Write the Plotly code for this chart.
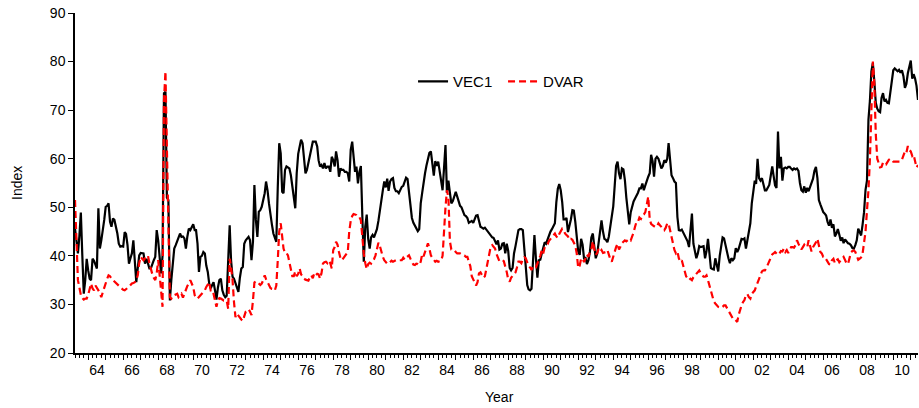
import pandas as pd
import plotly.graph_objects as go

# Monthly observations, first one = 1963-04
start_month = "1963-04-01"

vec1 = [
    45.6, 43, 40.5, 44, 48.9, 40, 32.2, 35, 39.4, 37, 35.3, 35.0,
    39.4, 39.0, 38, 37.4, 49.8, 41.5, 43.2, 45, 47.4, 50.1, 50.3, 50.8,
    47, 46, 47.7, 47.4, 46, 44.6, 42.5, 41.9, 42, 41.9, 44.9, 44.5,
    42.2, 38.4, 39.5, 40.5, 43.2, 38.4, 34.6, 37.5, 40.1, 40.6, 40.6, 40.5,
    38.4, 39.4, 38.5, 37.4, 37.4, 38.5, 39.1, 39.8, 45.3, 43.2, 39.1, 36.4,
    40, 73.5, 73.8, 52, 51.5, 30.8, 35, 39, 41.5, 42.2, 43, 43.9,
    44.6, 43.9, 44, 43.6, 41.5, 44, 45.6, 45.3, 46, 46.5, 45.3, 45.3,
    42.5, 36.7, 39.8, 40, 40.8, 40.5, 38, 36.7, 34.3, 33.3, 34, 34.6,
    32.9, 31,
    33.5, 35, 35.3, 32.9, 32, 31.5, 31.8, 37.7, 46.3, 39.1, 35.7, 35.3,
    34.3, 33.6, 32.6, 35.5, 37.4, 37.7, 42.5, 43.2, 43.5, 43.9, 43.2, 39.1,
    42.9, 54.6, 47.4, 43.9, 49.1, 49.4, 50.1, 51.5, 52.9, 55.3, 53.5, 50.8,
    48.0, 46.5, 44.6, 43.5, 42.9, 54.2, 63.2, 61.1, 53.2, 52.9, 57.7, 58.4,
    58.2, 58, 56.6, 54.2, 51.8, 49.8, 57, 61, 62.5, 63.9, 63.2, 59.7,
    57, 57.7, 59, 60.4, 62, 63.5, 63.5, 63.5, 62.5, 59.7, 58.4, 58.7,
    58, 59.1, 58, 58.4, 58.4, 57.3, 60.4, 59.7, 58.4, 61.5, 59.7, 56.3,
    58, 57.7, 57.7, 57.3, 57.3, 57, 55.3, 61.8, 63.5, 59.7, 57.3, 58.4,
    54.9,
    57.3, 58.5, 48, 38.8, 46, 48.5, 43.5, 41.5, 43.8, 44.3, 43.8, 44.8,
    45.5, 47.2, 49.5, 52, 53.5, 55.3, 54.1, 55.9, 53.4, 55.3, 55.8, 56,
    54, 53.3, 53.3, 52.9, 53.6, 54.2, 54.4, 55.2, 56.1, 55.8, 53, 50.4,
    47.8, 46.8, 46.2, 45.5, 45.1, 45.5, 50.8, 53, 55.2, 57, 58.6, 60.2,
    61.2, 61.5, 58.6, 56.5, 59.5, 58.5, 59.4, 57.5, 55.5, 53.5, 58, 62.8,
    53, 55.5, 53, 50.8, 51.3, 52.2, 53.2, 52.2, 51.2, 50.3, 50, 49,
    48.4, 48.2, 47.8, 46.8, 47, 47.2, 46.8, 47.6, 48.3, 48.4, 47.3, 46,
    45.8, 45.6, 45.8, 45.4, 45, 44.5, 44.2, 43.8, 43.7, 43, 42.4, 43.2,
    41.3,
    41.5, 42.5, 42.6, 40.5, 42.5, 41, 37.5, 37, 37.5, 40.5, 42, 43.5,
    45.3, 45.5, 45.5, 45.3, 41, 36.3, 34, 33.1, 32.9, 33.2, 40, 44.3,
    39.5, 35.5, 39.1, 39.2, 40.5, 41.8, 42.8, 42.5, 43.3, 44.4, 45, 45.5,
    46, 46.7, 51, 53.8, 54.8, 53.5, 51, 47.5, 47.5, 47.8, 44.9, 46,
    47.5, 49.4, 49.3, 47, 43, 40.9, 40.2, 43.5, 42.3, 39.5, 39.6, 38.3,
    39.1, 40.8, 43.8, 44.6, 42, 39.5, 40.5, 42.5, 45.6, 47.3, 45, 43.5,
    43.3, 42.8, 44, 46.5, 48, 50.2, 54.5, 58.5, 59.4, 57, 55.8, 58,
    57.8, 55.6, 52, 48.6, 46.5, 49, 50.4, 51.2, 51.8, 52.3,
    53, 53.9, 53.9, 54.9, 53.5, 54.5, 55.5, 56.3, 57, 60.8, 59.5, 56.3,
    60, 60.4, 60, 59, 58, 58.5, 59.7, 59.2, 60, 63.2, 59.5, 56.6,
    56, 55.3, 55, 48, 45.3, 45.2, 45.4, 44.8, 44.3, 43.9, 43, 41.8,
    46, 48.7, 42.5, 41.2, 39.5, 40.5, 42, 41.8, 42, 42, 39.5, 41,
    43.5, 40.5, 37.5, 37.3, 37.2, 39.5, 38, 36.8, 40, 42.2, 43.8, 43.6,
    42, 40.6, 39.5, 38.5, 39.5, 39.1, 39.5, 41.6, 40.8, 41.4, 42.8, 43.5,
    43.4, 43.6, 41.5, 43.5, 44.6, 46.7, 50.8, 52.8, 55.5, 54.8, 60, 56,
    55.5, 56, 54.6, 53.5, 53.5, 54, 54.6, 56.5, 58.4, 56.5, 54.5, 54,
    65.6,
    58, 60.4, 55.5, 58, 58.2, 58, 58.3, 58.3, 58, 57.7, 58, 57.8,
    58, 57.5, 55, 53.5, 53.2, 54.3, 53, 54, 53.3, 54.3, 55.2, 55.9,
    57.5, 58.3, 56, 51.5, 50.6, 49.7, 49, 48.7, 48.3, 47, 46.2, 47.5,
    45.8, 46.5, 44, 44.6, 45.5, 44.4, 43.1, 43.8, 42.6, 43.4, 42.9, 42.6,
    42.5, 42.2, 41.6, 41.5, 42.2, 43.2, 45.6, 45, 44.2, 46.5, 49, 53.6,
    55.5, 68, 72, 78, 79.7, 76, 71.5, 70.3, 69.8, 69.6, 72.5, 73.5,
    71.8, 72.1, 71.5, 71.4, 73.5, 76.5, 78.2, 78.6, 78.3, 78, 78.3, 77.7,
    78.2, 77, 74.6, 75.4, 77.6, 79, 80.2, 76.5, 77.4, 76.5, 75, 72.1,
]

dvar = [
    51.5, 42, 35, 33.5, 32, 31.3, 31, 31.2, 31.2, 32, 33.5, 34.3,
    33.3, 32.9, 33.9, 33.5, 32.9, 32.2, 31.5, 32.5, 33.5, 34.6, 35.3, 36.0,
    35.8, 35.3, 35, 34.6, 34.3, 34, 33.7, 33.4, 33.3, 33.0, 32.9, 33.2,
    33.4, 33.6, 34, 34.3, 34.4, 34.6, 35.0, 36.0, 38.5, 39.8, 39.4, 39.1,
    39.5, 39.8, 40.1, 38.5, 37.0, 36.2, 35.5, 35.0, 36.4, 39.1, 36, 32.9,
    29.5, 72, 78, 62, 43.2, 31.5, 31.2, 31.8, 31.9, 32, 32.2, 31.5,
    31.8, 32.2, 31.4, 32.3, 32.9, 33.8, 34.3, 35.0, 34.3, 33.6, 31.9, 31.4,
    31.2, 31.5, 31.8, 32.2, 32.6, 32.9, 33.6, 34.2, 34.6, 32.9, 33, 32.2,
    31, 29.5,
    30.8, 31.3, 31.2, 30.9, 30.8, 30.8, 30.8, 29.1, 39.4, 37.7, 35, 30.5,
    27.4, 28.1, 27.6, 27.1, 26.9, 26.6, 27.5, 28.5, 28.8, 29, 28.5, 27.8,
    30.8, 34.5, 34.8, 34.6, 34.3, 34, 34.3, 35, 36, 35.2, 34.5, 33.8,
    33.4, 33.2, 33.2, 32.9, 33.9, 39.1, 45, 46.7, 43.5, 41.5, 40.6, 40.6,
    40.1, 38.9, 37.2, 35.8, 35.8, 36.8, 35.8, 36.3, 37.4, 36.2, 35.8, 35.3,
    35.1, 35.0, 34.9, 35.6, 36, 35.4, 36.4, 36, 36.3, 36.2, 35.3, 36.4,
    38.4, 38.7, 38.8, 38.5, 39, 38.5, 37.4, 41.2, 41.8, 42.9, 42.3, 40.8,
    39.5, 39.1, 39.6, 39.9, 40.3, 40.8, 45.0, 47.2, 48.2, 48.6, 48.5, 48.4,
    48.0,
    48.0, 47.3, 43.7, 40.5, 38.5, 37.3, 38.3, 38.6, 38.4, 38.9, 39.3, 40.1,
    41.5, 42.7, 42, 40.8, 39.8, 39.1, 38.7, 38.4, 38.4, 38.7, 39, 38.8,
    39, 39.1, 39.1, 39.1, 39.1, 39.1, 39.6, 39.2, 39.6, 39.8, 40.1, 39.4,
    38.8, 38.2, 38.1, 38.4, 38.3, 38.1, 38.8, 40.4, 39.9, 40.8, 41.7, 42.6,
    41.5, 40.1, 39.6, 39.1, 38.8, 39, 38.8, 38.9, 39, 40, 46, 50,
    53.5, 52, 43, 41.3, 41.2, 41.2, 40.8, 40.5, 40.5, 40.5, 40.3, 40.2,
    40.1, 39.8, 39.8, 38.8, 37.9, 35.8, 35, 34.4, 33.9, 34.6, 36.4, 36.6,
    36.1, 35.5, 35.8, 37.5, 39.2, 40.5, 41.9, 42.2, 41.9, 41.5, 40.4, 39.8,
    38.9,
    38.9, 39.1, 38.9, 38, 36.7, 35.1, 34.7, 35.5, 35.9, 36.2, 36.6, 37.6,
    38.8, 38.8, 38.5, 39.3, 39.7, 39.5, 38.5, 37.9, 37.6, 37.1, 37.8, 37.5,
    37.6, 38.6, 39.2, 40, 41.2, 40.5, 41.8, 42.2, 42.4, 43.1, 43.5, 44,
    44.3, 44.6, 44, 43.7, 44.5, 45.2, 45.6, 45.4, 44.6, 44.3, 44, 43.3,
    43.5, 43.3, 42.5, 42.1, 40.5, 37.5, 38, 39.4, 39.5, 38.7, 39.5, 40.3,
    39.8, 40.8, 41.2, 43, 41.4, 40.2, 40.6, 41.4, 40.8, 41.2, 40.6, 40.7,
    40.8, 41.2, 40.2, 39.3, 38.8, 39.8, 41.2, 41.8, 42.5, 41.3, 41.9, 42.6,
    42.9, 43.2, 43, 43.2, 43.5, 43.2, 44, 44.8, 46, 47,
    47, 47.9, 47.6, 48.3, 48.5, 49, 50.5, 52.2, 47.5, 46.6, 46.3, 46.1,
    45.9, 46, 46.7, 46.3, 46, 45.5, 45.3, 45.8, 46.7, 46.7, 45.4, 43.6,
    42.2, 41.2, 40.5, 40.9, 39.5, 38.8, 39.1, 38, 36.9, 35.8, 35.4, 35,
    35.3, 35, 35.6, 36, 36.2, 36.7, 37, 36.4, 36, 35.7, 35.7, 36,
    35, 33.8, 32.8, 31.8, 30.6, 30.2, 29.8, 29.5, 29.4, 29.3, 29.5, 29.8,
    29.8, 29.3, 28.8, 28.1, 27.5, 27.1, 27.1, 26.8, 26.4, 27.8, 29, 29.8,
    30.5, 30.9, 32, 32.1, 31.5, 31.2, 32.2, 32.5, 32.9, 33.7, 34.6, 35.2,
    36.2, 36.8, 37, 37, 37.5, 38.2, 38.6, 39.5, 40.3, 40.5, 40.8, 40.5,
    40.2,
    40.5, 41, 40.9, 41.5, 40.8, 41.2, 40.6, 41.1, 41.8, 41.8, 41.7, 42.2,
    43.2, 42.5, 41.8, 41.3, 41.8, 42.3, 41.9, 41.8, 43.2, 41.9, 40.9, 41.8,
    42.2, 42.8, 43.5, 42.2, 40.8, 40.5, 39.8, 39.8, 39.3, 38.7, 38.3, 38.2,
    39.1, 39.4, 38.5, 39.1, 39.3, 38.7, 39, 39.5, 39.8, 39.2, 38.5, 38.3,
    39.5, 40.7, 41, 41.1, 40.8, 39.8, 39.2, 39.4, 39.7, 40.5, 42.5, 45,
    49.3, 53.5, 60, 73, 80, 75.6, 65, 60, 59, 58.2, 58.3, 59.2,
    58.8, 58.8, 59.3, 59.8, 60, 59.8, 59.4, 59.4, 59.4, 59.4, 59.4, 59.4,
    59.8, 60.8, 61.5, 61.2, 62.6, 61.8, 61.5, 60.6, 60.9, 59.5, 58.2, 58.7,
]

y_ticks = [20, 30, 40, 50, 60, 70, 80, 90]
label_years = list(range(1964, 2011, 2))
x_labels = [f"{y % 100:02d}" for y in label_years]

dates_vec1 = pd.date_range(start=start_month, periods=len(vec1), freq="MS")
dates_dvar = pd.date_range(start=start_month, periods=len(dvar), freq="MS")
x_end = max(dates_vec1[-1], dates_dvar[-1])
x_range = [dates_vec1[0], x_end]

FONT = "Liberation Sans, Arial, sans-serif"

fig = go.Figure()
fig.add_trace(go.Scatter(
    x=dates_vec1, y=vec1, mode="lines", name="VEC1",
    line=dict(color="black", width=2.2),
))
fig.add_trace(go.Scatter(
    x=dates_dvar, y=dvar, mode="lines", name="DVAR",
    line=dict(color="#ff0000", width=2.2, dash="7px,4px"),
))
# carrier for the label axis (no visible mark)
fig.add_trace(go.Scatter(
    x=[dates_vec1[0]], y=[None], xaxis="x2", mode="lines",
    showlegend=False, hoverinfo="skip",
))

fig.update_layout(
    width=919, height=408,
    margin=dict(l=75, r=1, t=13, b=55),
    paper_bgcolor="white", plot_bgcolor="white",
    font=dict(family=FONT, size=14, color="black"),
    showlegend=True,
    legend=dict(
        orientation="h", x=0.401, y=0.798, xanchor="left", yanchor="middle",
        entrywidth=45,
        bgcolor="rgba(0,0,0,0)", borderwidth=0,
        font=dict(family=FONT, size=15, color="black"),
    ),
    xaxis=dict(
        type="date", range=x_range, automargin=False,
        tickmode="linear", tick0="1964-01-01", dtick="M12",
        ticks="outside", ticklen=5, tickwidth=1, tickcolor="black",
        showticklabels=False,
        minor=dict(dtick="M3", tick0="1964-01-01", ticks="outside",
                   ticklen=3, tickwidth=1, tickcolor="black", showgrid=False),
        showline=True, linecolor="black", linewidth=1.5,
        showgrid=False, zeroline=False,
    ),
    xaxis2=dict(
        type="date", range=x_range, overlaying="x", side="bottom", anchor="y",
        automargin=False,
        tickmode="array",
        tickvals=[pd.Timestamp(f"{y}-07-02") for y in label_years],
        ticktext=x_labels,
        ticks="outside", ticklen=4, tickcolor="rgba(0,0,0,0)",
        tickfont=dict(family=FONT, size=14, color="black"),
        showline=False, showgrid=False, zeroline=False,
    ),
    yaxis=dict(
        range=[20, 90], tickmode="array", tickvals=y_ticks, automargin=False,
        ticks="outside", ticklen=5, tickwidth=1, tickcolor="black",
        tickfont=dict(family=FONT, size=14, color="black"),
        showline=True, linecolor="black", linewidth=1.5,
        showgrid=False, zeroline=False,
    ),
    annotations=[
        dict(text="Index", xref="paper", yref="paper", x=-0.0688, y=0.5,
             textangle=-90, showarrow=False, xanchor="center", yanchor="middle",
             font=dict(family=FONT, size=14, color="black")),
        dict(text="Year", xref="paper", yref="paper", x=0.504, y=-0.1285,
             showarrow=False, xanchor="center", yanchor="middle",
             font=dict(family=FONT, size=14, color="black")),
    ],
)

fig.write_html(
    "out.html",
    config={"displayModeBar": False},
    post_script="document.body.style.margin='0px';document.body.style.padding='0px';",
)
